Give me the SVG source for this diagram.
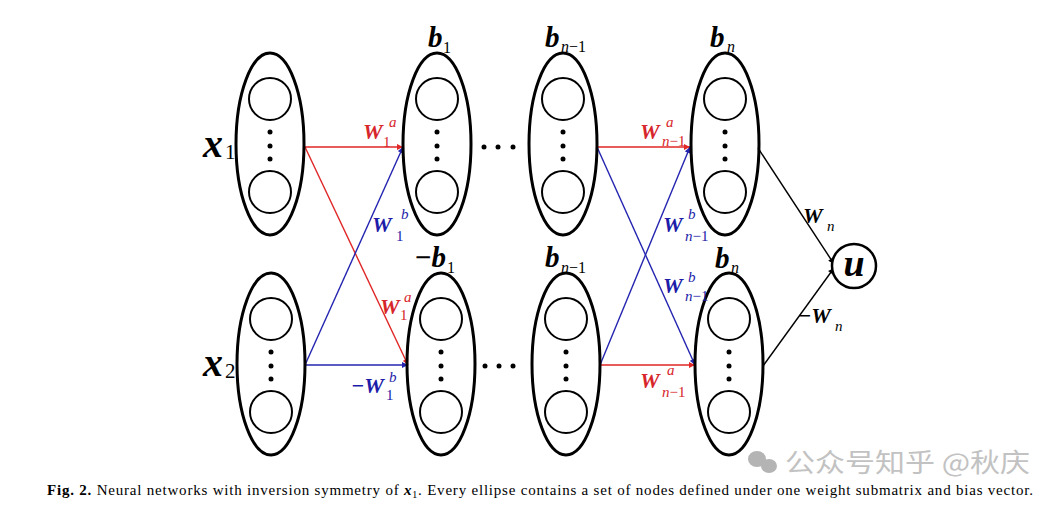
<svg xmlns="http://www.w3.org/2000/svg" width="1054" height="507" viewBox="0 0 1054 507">
<style>
.ell{fill:none;stroke:#000;stroke-width:3}
.cir{fill:none;stroke:#000;stroke-width:2}
.dot{fill:#000}
.m{font-family:"Liberation Serif","Times New Roman",serif;font-weight:bold;font-style:italic}
.s{font-family:"Liberation Serif","Times New Roman",serif;font-weight:normal;font-style:normal}
.si{font-family:"Liberation Serif","Times New Roman",serif;font-weight:normal;font-style:italic}
.red{fill:#d7262b}
.blue{fill:#1c1ca8}
.blk{fill:#000}
.lr{stroke:#e02626;stroke-width:1.4;fill:none}
.lb{stroke:#2424b0;stroke-width:1.4;fill:none}
.lk{stroke:#000;stroke-width:1.4;fill:none}
.cap{font-family:"Liberation Serif","Times New Roman",serif;font-size:15px;fill:#000}
</style>
<defs>
<g id="layer">
<ellipse class="ell" cx="0" cy="0" rx="34" ry="91"/>
<circle class="cir" cx="0" cy="-45" r="21"/>
<circle class="cir" cx="0" cy="48" r="21"/>
<circle class="dot" cx="0" cy="-12" r="2.5"/>
<circle class="dot" cx="0" cy="2" r="2.5"/>
<circle class="dot" cx="0" cy="15" r="2.5"/>
</g>
<marker id="ar" viewBox="0 0 10 10" refX="10" refY="5" markerWidth="7" markerHeight="6" markerUnits="userSpaceOnUse" orient="auto"><path d="M0,0 L10,5 L0,10 z" fill="#e02626"/></marker>
<marker id="ab" viewBox="0 0 10 10" refX="10" refY="5" markerWidth="7" markerHeight="6" markerUnits="userSpaceOnUse" orient="auto"><path d="M0,0 L10,5 L0,10 z" fill="#2424b0"/></marker>
<marker id="ak" viewBox="0 0 10 10" refX="10" refY="5" markerWidth="7" markerHeight="6" markerUnits="userSpaceOnUse" orient="auto"><path d="M0,0 L10,5 L0,10 z" fill="#000"/></marker>
</defs>
<rect width="1054" height="507" fill="#fff"/>

<g id="connectors">
<line class="lr" x1="305" y1="147" x2="403" y2="147" marker-end="url(#ar)"/>
<line class="lr" x1="305" y1="147" x2="408" y2="365" marker-end="url(#ar)"/>
<line class="lb" x1="305" y1="365" x2="403" y2="147" marker-end="url(#ab)"/>
<line class="lb" x1="305" y1="365" x2="408" y2="365" marker-end="url(#ab)"/>
<line class="lr" x1="597" y1="147" x2="690" y2="147" marker-end="url(#ar)"/>
<line class="lb" x1="597" y1="147" x2="695" y2="365" marker-end="url(#ab)"/>
<line class="lb" x1="600" y1="365" x2="690" y2="147" marker-end="url(#ab)"/>
<line class="lr" x1="600" y1="365" x2="695" y2="365" marker-end="url(#ar)"/>
<line class="lk" x1="758" y1="148" x2="834" y2="264" marker-end="url(#ak)"/>
<line class="lk" x1="763" y1="366" x2="834" y2="268" marker-end="url(#ak)"/>
</g>

<g id="x1">
<use href="#layer" x="270" y="144"/>
<text class="m blk" x="203" y="157" font-size="40">x</text>
<text class="s blk" x="225" y="159" font-size="21">1</text>
</g>
<g id="x2">
<use href="#layer" x="271" y="364"/>
<text class="m blk" x="203" y="376" font-size="40">x</text>
<text class="s blk" x="225" y="378" font-size="21">2</text>
</g>
<g id="b1">
<use href="#layer" x="437" y="144"/>
<text class="m blk" x="428" y="47" font-size="29">b</text>
<text class="s blk" x="443" y="53" font-size="16">1</text>
</g>
<g id="neg-b1">
<use href="#layer" x="441" y="364"/>
<text class="m blk" x="414" y="267" font-size="29">−b</text>
<text class="s blk" x="447" y="273" font-size="16">1</text>
</g>
<g id="bn-1">
<use href="#layer" x="563" y="144"/>
<text class="m blk" x="545" y="47" font-size="29">b</text>
<text class="si blk" x="561" y="52" font-size="16">n<tspan class="s">−1</tspan></text>
</g>
<g id="bn-1-bottom">
<use href="#layer" x="566" y="364"/>
<text class="m blk" x="545" y="267" font-size="29">b</text>
<text class="si blk" x="561" y="273" font-size="16">n<tspan class="s">−1</tspan></text>
</g>
<g id="bn">
<use href="#layer" x="725" y="144"/>
<text class="m blk" x="710" y="47" font-size="29">b</text>
<text class="si blk" x="727" y="52" font-size="16">n</text>
</g>
<g id="bn-bottom">
<use href="#layer" x="729" y="364"/>
<text class="m blk" x="715" y="268" font-size="29">b</text>
<text class="si blk" x="731" y="273" font-size="16">n</text>
</g>
<g id="u">
<circle cx="854" cy="266" r="22" fill="#fff" stroke="#000" stroke-width="2.5"/>
<text class="m blk" x="854" y="276" font-size="38" text-anchor="middle">u</text>
</g>

<g id="ellipsis">
<circle class="dot" cx="484" cy="147" r="2.5"/>
<circle class="dot" cx="498" cy="147" r="2.5"/>
<circle class="dot" cx="513" cy="147" r="2.5"/>
<circle class="dot" cx="485" cy="366" r="2.5"/>
<circle class="dot" cx="499" cy="366" r="2.5"/>
<circle class="dot" cx="513" cy="366" r="2.5"/>
</g>

<g id="edge-labels">
<text class="m red" x="363" y="139" font-size="22">W</text>
<text class="si red" x="389" y="127" font-size="15">a</text>
<text class="s red" x="383" y="147" font-size="15">1</text>

<text class="m blue" x="372" y="232" font-size="22">W</text>
<text class="si blue" x="401" y="219" font-size="15">b</text>
<text class="s blue" x="396" y="241" font-size="15">1</text>

<text class="m red" x="380" y="314" font-size="22">W</text>
<text class="si red" x="404" y="302" font-size="15">a</text>
<text class="s red" x="400" y="320" font-size="15">1</text>

<text class="m blue" x="351" y="393" font-size="22">−W</text>
<text class="si blue" x="389" y="382" font-size="15">b</text>
<text class="s blue" x="386" y="400" font-size="15">1</text>

<text class="m red" x="640" y="139" font-size="22">W</text>
<text class="si red" x="666" y="127" font-size="15">a</text>
<text class="si red" x="662" y="146" font-size="15">n<tspan class="s">−1</tspan></text>

<text class="m blue" x="663" y="232" font-size="22">W</text>
<text class="si blue" x="688" y="219" font-size="15">b</text>
<text class="si blue" x="685" y="241" font-size="15">n<tspan class="s">−1</tspan></text>

<text class="m blue" x="663" y="293" font-size="22">W</text>
<text class="si blue" x="688" y="282" font-size="15">b</text>
<text class="si blue" x="685" y="301" font-size="15">n<tspan class="s">−1</tspan></text>

<text class="m red" x="640" y="388" font-size="22">W</text>
<text class="si red" x="667" y="375" font-size="15">a</text>
<text class="si red" x="662" y="397" font-size="15">n<tspan class="s">−1</tspan></text>

<text class="m blk" x="803" y="223" font-size="22">W</text>
<text class="si blk" x="827" y="231" font-size="15">n</text>

<text class="m blk" x="798" y="323" font-size="22">−W</text>
<text class="si blk" x="835" y="331" font-size="15">n</text>
</g>

<g id="watermark">
<ellipse cx="757" cy="459" rx="9" ry="8" fill="#b4b4b4"/>
<ellipse cx="769" cy="466" rx="8" ry="7" fill="#b4b4b4"/>
<text x="785" y="472" font-family="'Noto Sans CJK SC',sans-serif" font-size="26" fill="#c2c2c2" textLength="245" lengthAdjust="spacingAndGlyphs">公众号知乎 @秋庆</text>
</g>

<g id="caption">
<text class="cap" x="47" y="495" textLength="986" lengthAdjust="spacing"><tspan font-weight="bold">Fig. 2.</tspan>  Neural networks with inversion symmetry of <tspan font-weight="bold" font-style="italic">x</tspan><tspan font-size="10" dy="3">1</tspan><tspan dy="-3">. Every ellipse contains a set of nodes defined under one weight submatrix and bias vector.</tspan></text>
</g>
</svg>
